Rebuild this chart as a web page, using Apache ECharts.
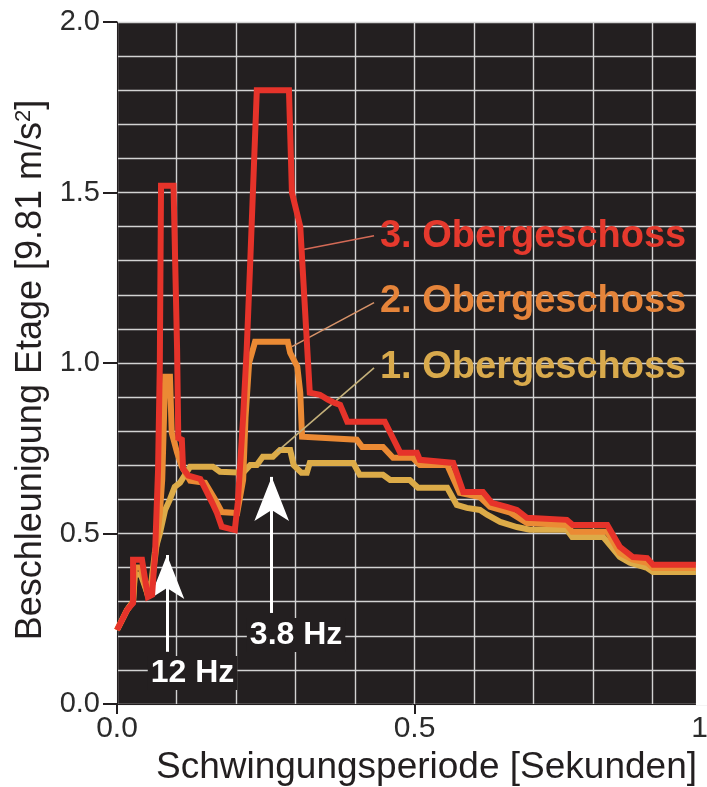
<!DOCTYPE html>
<html>
<head>
<meta charset="utf-8">
<script src="https://cdn.jsdelivr.net/npm/echarts@6/dist/echarts.min.js"></script>
<style>
  html, body { margin: 0; padding: 0; background: #fff; }
  #chart { width: 707px; height: 787px; }
</style>
</head>
<body>
<div id="chart"></div>
<script>
// Antwortspektren je Geschoss: [Periode s, Beschleunigung g]
const og1 = [
  [0, 0.217], [0.017, 0.276], [0.027, 0.30], [0.03, 0.38], [0.04, 0.38], [0.05, 0.33], [0.058, 0.36],
  [0.064, 0.45], [0.072, 0.50], [0.081, 0.57], [0.089, 0.60], [0.097, 0.637], [0.106, 0.649],
  [0.123, 0.696], [0.161, 0.696], [0.173, 0.681], [0.212, 0.678], [0.224, 0.701], [0.235, 0.701],
  [0.245, 0.725], [0.262, 0.725], [0.274, 0.745], [0.291, 0.745], [0.297, 0.70], [0.31, 0.678],
  [0.319, 0.678], [0.324, 0.707], [0.397, 0.707], [0.408, 0.672], [0.447, 0.672], [0.459, 0.657],
  [0.492, 0.657], [0.506, 0.634], [0.555, 0.634], [0.571, 0.584], [0.588, 0.575], [0.61, 0.569],
  [0.622, 0.555], [0.644, 0.534], [0.672, 0.519], [0.694, 0.511], [0.756, 0.511], [0.765, 0.49],
  [0.817, 0.49], [0.845, 0.431], [0.862, 0.414], [0.891, 0.399], [0.901, 0.387], [0.973, 0.387]
]
const og2 = [
  [0, 0.217], [0.017, 0.276], [0.027, 0.30], [0.03, 0.40], [0.04, 0.40], [0.05, 0.33], [0.058, 0.35],
  [0.065, 0.443], [0.072, 0.56], [0.076, 0.657], [0.081, 0.96], [0.089, 0.96], [0.092, 0.795],
  [0.101, 0.737], [0.109, 0.696], [0.123, 0.655], [0.148, 0.649], [0.165, 0.599], [0.176, 0.563],
  [0.202, 0.56], [0.212, 0.657], [0.216, 0.84], [0.222, 1.0], [0.232, 1.062], [0.287, 1.062],
  [0.291, 1.03], [0.303, 0.989], [0.308, 0.913], [0.311, 0.784], [0.403, 0.775], [0.412, 0.754],
  [0.447, 0.754], [0.464, 0.722], [0.497, 0.722], [0.509, 0.701], [0.555, 0.701], [0.576, 0.619],
  [0.61, 0.607], [0.627, 0.578], [0.661, 0.561], [0.689, 0.531], [0.756, 0.525], [0.765, 0.505],
  [0.824, 0.505], [0.845, 0.443], [0.867, 0.423], [0.891, 0.414], [0.901, 0.399], [0.973, 0.399]
]
const og3 = [
  [0, 0.217], [0.017, 0.276], [0.027, 0.296], [0.027, 0.423], [0.042, 0.423], [0.052, 0.314],
  [0.059, 0.32], [0.064, 0.443], [0.069, 0.687], [0.072, 1.0], [0.074, 1.52], [0.095, 1.52],
  [0.101, 1.04], [0.103, 0.78], [0.109, 0.775], [0.111, 0.69], [0.12, 0.67], [0.14, 0.66],
  [0.15, 0.625], [0.16, 0.59], [0.168, 0.56], [0.176, 0.52], [0.198, 0.51], [0.203, 0.59],
  [0.212, 0.842], [0.218, 1.04], [0.224, 1.30], [0.235, 1.80], [0.289, 1.80], [0.294, 1.5],
  [0.308, 1.40], [0.324, 0.913], [0.341, 0.907], [0.355, 0.892], [0.366, 0.883], [0.375, 0.877],
  [0.387, 0.828], [0.45, 0.828], [0.476, 0.737], [0.504, 0.737], [0.509, 0.716], [0.565, 0.707],
  [0.582, 0.622], [0.615, 0.622], [0.63, 0.59], [0.655, 0.578], [0.672, 0.569], [0.689, 0.546],
  [0.756, 0.54], [0.766, 0.525], [0.824, 0.525], [0.845, 0.461], [0.867, 0.431], [0.891, 0.428],
  [0.901, 0.408], [0.973, 0.408]
]

const seriesNames = ['1. Obergeschoss', '2. Obergeschoss', '3. Obergeschoss']
const seriesColors = ['#dcab48', '#eb8a34', '#e6332a']
const labelColors = ['#d9aa4c', '#e5843a', '#e5392d']
const leaderColors = ['#c4b07a', '#d8946a', '#d46a56']
// Beschriftung: Textanfang und Hinweislinie [von, bis]
const labelPos = [[0.442, 0.986], [0.442, 1.18], [0.442, 1.372]]
const leaders = [
  [[0.432, 0.986], [0.269, 0.740]],
  [[0.432, 1.177], [0.294, 1.048]],
  [[0.432, 1.373], [0.311, 1.332]]
]
// Pfeile zu den Eigenfrequenzen
const arrowLines = [[[0.084, 0.153], [0.084, 0.437]], [[0.26, 0.267], [0.26, 0.666]]]
const arrowTexts = ['12 Hz', '3.8 Hz']
const arrowTextPos = [[0.127, 0.091], [0.301, 0.202]]

const xEnd = 0.973
const font = '"Liberation Sans", Arial, Helvetica, sans-serif'
const plotBg = '#231f20'
const gridColor = '#d2d2d2'

const chart = echarts.init(document.getElementById('chart'))

const allData = [og1, og2, og3]
const series = allData.map((d, i) => {
  const mlData = [[
    { coord: leaders[i][0], symbol: 'none', lineStyle: { color: leaderColors[i], width: 1.6, type: 'solid' } },
    { coord: leaders[i][1], symbol: 'none' }
  ]]
  if (i === 2) {
    arrowLines.forEach(a => {
      mlData.push([
        { coord: a[0], symbol: 'none', lineStyle: { color: '#ffffff', width: 3, type: 'solid' } },
        { coord: a[1], symbol: 'arrow', symbolSize: [26, 44] }
      ])
    })
  }
  return {
    name: seriesNames[i],
    type: 'line',
    data: d,
    showSymbol: false,
    symbol: 'none',
    lineStyle: { color: seriesColors[i], width: 6, join: 'miter' },
    z: 3 + i,
    markLine: {
      silent: true,
      animation: false,
      label: { show: false },
      data: mlData
    }
  }
})

chart.setOption({
  animation: false,
  grid: {
    left: 117, top: 22, right: -5, bottom: 83,
    containLabel: false,
    outerBoundsMode: 'none',
    show: true, backgroundColor: plotBg, borderWidth: 0
  },
  xAxis: {
    type: 'value',
    min: 0, max: 1, interval: 0.5,
    name: 'Schwingungsperiode [Sekunden]',
    nameLocation: 'middle',
    nameGap: 44,
    nameTextStyle: { fontFamily: font, fontSize: 37, color: '#231f20', padding: [0, 0, 0, 24] },
    axisLine: { show: true, onZero: false, lineStyle: { color: '#231f20', width: 1 } },
    axisTick: { show: true, length: 10, lineStyle: { color: '#231f20', width: 2 } },
    axisLabel: {
      fontFamily: font, fontSize: 30, color: '#2b2b2b', margin: 10,
      formatter: v => v.toFixed(1)
    },
    splitLine: { show: true, lineStyle: { color: gridColor, width: 1.4 } },
    minorTick: { show: false, splitNumber: 5 },
    minorSplitLine: { show: true, lineStyle: { color: gridColor, width: 1.4 } }
  },
  yAxis: {
    type: 'value',
    min: 0, max: 2, interval: 0.5,
    name: '{a|Beschleunigung Etage [9.81 m/s}{s|2}{a|]}',
    nameLocation: 'middle',
    nameGap: 67,
    nameRotate: 90,
    nameTextStyle: {
      padding: [0, 14, 0, 0],
      rich: {
        a: { fontFamily: font, fontSize: 36, color: '#231f20' },
        s: { fontFamily: font, fontSize: 22, color: '#231f20', verticalAlign: 'top' }
      }
    },
    axisLine: { show: true, lineStyle: { color: '#231f20', width: 1 } },
    axisTick: { show: true, length: 14, lineStyle: { color: '#231f20', width: 2 } },
    axisLabel: {
      fontFamily: font, fontSize: 29, color: '#2b2b2b', margin: 17,
      formatter: v => v.toFixed(1)
    },
    splitLine: { show: true, lineStyle: { color: gridColor, width: 1.4 } },
    minorTick: { show: false, splitNumber: 5 },
    minorSplitLine: { show: true, lineStyle: { color: gridColor, width: 1.4 } }
  },
  series
})

// Beschriftungen und Abschluss der Zeichenfläche
const toPx = p => chart.convertToPixel({ gridIndex: 0 }, p)
const graphics = []
const edge = toPx([xEnd, 0])
graphics.push({
  type: 'rect', z: 100,
  shape: { x: edge[0], y: 0, width: 800, height: edge[1] + 1 },
  style: { fill: '#ffffff' }
})
seriesNames.forEach((n, i) => {
  const p = toPx(labelPos[i])
  graphics.push({
    type: 'text', z: 110, x: p[0], y: p[1],
    style: {
      text: n, fill: labelColors[i], fontFamily: font, fontSize: 38, fontWeight: 'bold',
      align: 'left', verticalAlign: 'middle'
    }
  })
})
arrowTexts.forEach((t, i) => {
  const p = toPx(arrowTextPos[i])
  graphics.push({
    type: 'text', z: 110, x: p[0], y: p[1],
    style: {
      text: t, fill: '#ffffff', fontFamily: font, fontSize: 32, fontWeight: 'bold',
      align: 'center', verticalAlign: 'middle', backgroundColor: plotBg, padding: [1, 3]
    }
  })
})
chart.setOption({ graphic: graphics })
</script>
</body>
</html>
